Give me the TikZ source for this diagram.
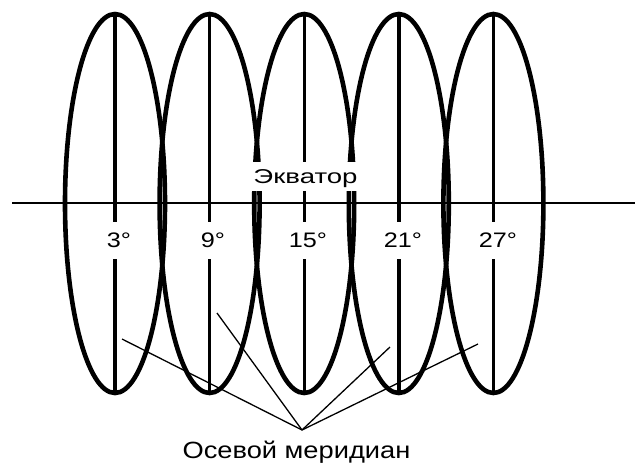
\documentclass[tikz,border=0pt]{standalone}
\usepackage{fontspec}
\setmainfont{Liberation Sans}
\begin{document}
\begin{tikzpicture}[x=1pt,y=-1pt,
  oval/.style={line width=4.6pt},
  merid/.style={line width=3.4pt},
  eqline/.style={line width=1.8pt},
  leader/.style={line width=1.3pt},
  deg/.style={font=\fontsize{21}{21}\selectfont, inner sep=0pt},
  lbl/.style={inner sep=0pt}]
\useasboundingbox (0,0) rectangle (635,467);
% equator
\draw[eqline] (12,203) -- (635,203);
% ellipses
\foreach \cx in {115,209.6,304.2,398.8,493.4}{
  \draw[oval] (\cx,203.5) ellipse [x radius=50, y radius=189.5];
}
% white box under Экватор
\fill[white] (249,162) rectangle (361,191);
% meridians
\foreach \cx in {115,209.6,398.8,493.4}{
  \draw[merid] (\cx,14) -- (\cx,222);
  \draw[merid] (\cx,259) -- (\cx,393);
}
\draw[merid] (304.2,14) -- (304.2,162);
\draw[merid] (304.2,191) -- (304.2,222);
\draw[merid] (304.2,259) -- (304.2,393);
% labels
\node[lbl] (eq) at (305.5,179) {\scalebox{1.38}[1]{\fontsize{20}{20}\selectfont Экватор}};
\node[deg] (d3) at (119,240) {\scalebox{1.2}[1]{3°}};
\node[deg] (d9) at (213,240) {\scalebox{1.2}[1]{9°}};
\node[deg] (d15) at (308,240) {\scalebox{1.2}[1]{15°}};
\node[deg] (d21) at (403,240) {\scalebox{1.2}[1]{21°}};
\node[deg] (d27) at (498,240) {\scalebox{1.2}[1]{27°}};
\node[lbl] (om) at (296.5,452) {\scalebox{1.16}[1]{\fontsize{23.5}{23.5}\selectfont Осевой меридиан}};
% leaders
\coordinate (c) at (302,430);
\coordinate (m1) at (122,339);
\coordinate (m2) at (217,313);
\coordinate (m4) at (390,347);
\coordinate (m5) at (478,344);
\draw[leader] (c) -- (m1);
\draw[leader] (c) -- (m2);
\draw[leader] (c) -- (m4);
\draw[leader] (c) -- (m5);
\end{tikzpicture}
\end{document}
